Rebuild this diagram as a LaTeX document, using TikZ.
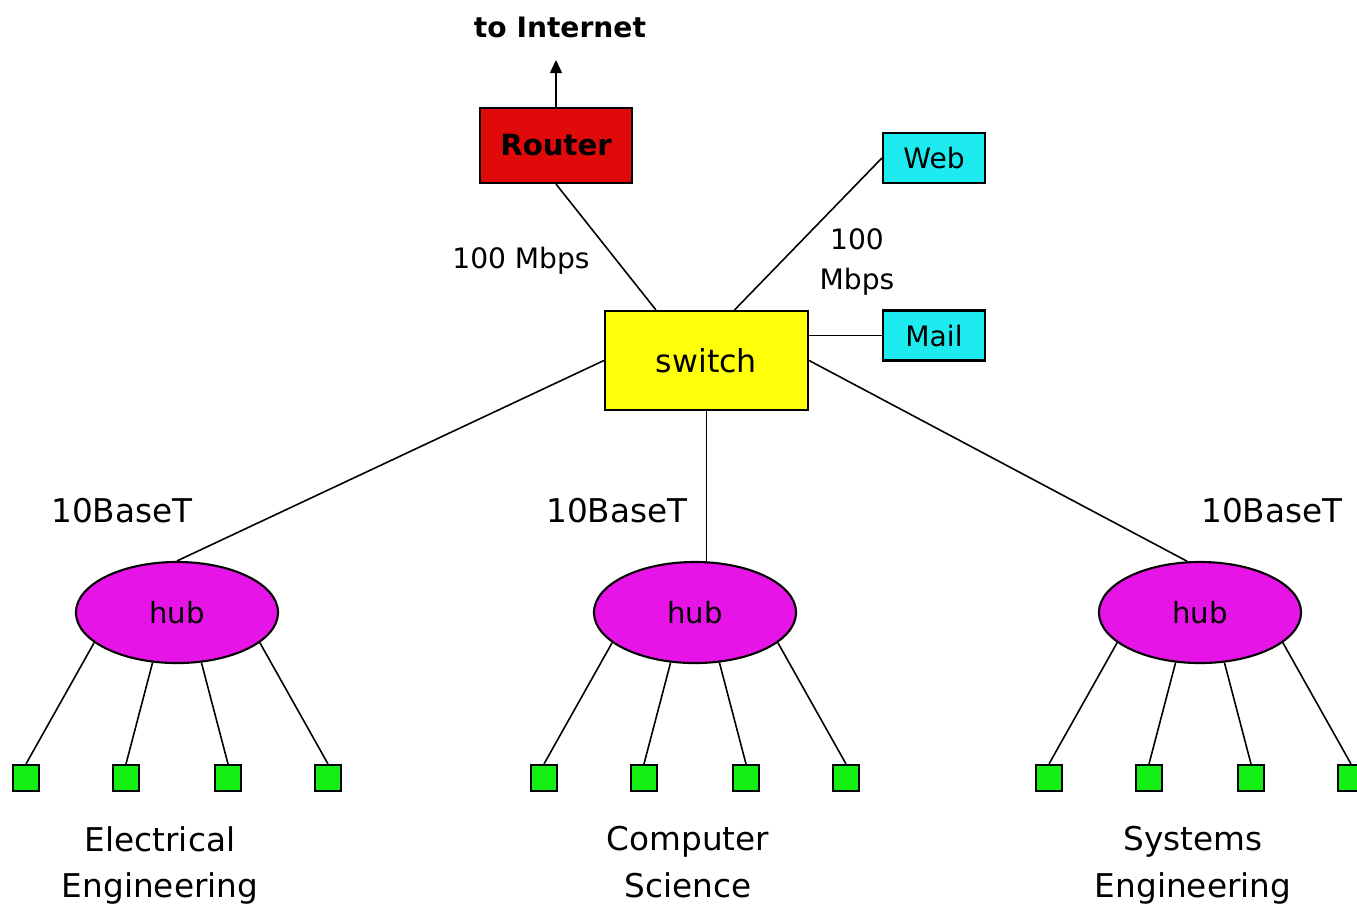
\documentclass[tikz,border=0pt]{standalone}
\usepackage{fontspec}
\setmainfont{DejaVu Sans}
\usetikzlibrary{arrows.meta,shapes.geometric}
\definecolor{RouterRed}{HTML}{E00A0A}
\definecolor{SwitchYellow}{HTML}{FFFF0A}
\definecolor{ServerCyan}{HTML}{1EEBF0}
\definecolor{HubMagenta}{HTML}{E614E6}
\definecolor{HostGreen}{HTML}{14F014}

\begin{document}
\begin{tikzpicture}[x=0.01cm,y=-0.01cm,
    box/.style={draw=black,line width=0.6pt,inner sep=0pt},
    server/.style={box,fill=ServerCyan,minimum width=1.02cm,minimum height=0.50cm,font=\fontsize{8pt}{10pt}\selectfont},
    hubnode/.style={ellipse,draw=black,line width=0.6pt,fill=HubMagenta,minimum width=2.02cm,minimum height=1.01cm,inner sep=0pt,font=\fontsize{8.3pt}{10pt}\selectfont},
    host/.style={box,fill=HostGreen,minimum size=0.26cm},
    link/.style={draw=black,line width=0.45pt},
    speed/.style={inner sep=0pt,font=\fontsize{9.3pt}{12pt}\selectfont},
    dept/.style={inner sep=0pt,align=center,font=\fontsize{9.3pt}{13.1pt}\selectfont}]
    \useasboundingbox (0,0) rectangle (1357,905);

    % core
    \node[box,fill=RouterRed,minimum width=1.52cm,minimum height=0.75cm,font=\bfseries\fontsize{8.3pt}{10pt}\selectfont] (router) at (556,145.5) {Router};
    \node[anchor=base,inner sep=0pt,font=\bfseries\fontsize{8pt}{10pt}\selectfont] (internet) at (560,37) {to Internet};
    \coordinate (inet) at (556,60);
    \draw[link,-{Triangle[length=0.13cm,width=0.12cm]}] (router.north) -- (inet);

    \node[box,fill=SwitchYellow,minimum width=2.03cm,minimum height=0.99cm,font=\fontsize{9pt}{11pt}\selectfont] (switch) at (706.5,360.5) {switch};
    \node[server] (web) at (934,158) {Web};
    \node[server] (mail) at (934,335.5) {Mail};

    \draw[link] (router.south) -- (switch.135);
    \draw[link] (web.west) -- (switch.61);
    \draw[link] (mail.west) -- (mail.west -| switch.east);
    \node[anchor=base,inner sep=0pt,font=\fontsize{8pt}{10pt}\selectfont] (uplink) at (521,268) {100 Mbps};
    \node[anchor=north,inner sep=0pt,align=center,font=\fontsize{8pt}{11.4pt}\selectfont] (srvlink) at (857,228) {100\\Mbps};

    % departments
    \foreach \name/\cx in {ee/177,cs/695,se/1200} {
      \node[hubnode] (\name) at (\cx,612.5) {hub};
      \foreach \k/\dx/\ang in {1/-151/200,2/-51/244,3/51/296,4/151/340} {
        \node[host] (\name\k) at (\cx+\dx,778) {};
        \draw[link] (\name.\ang) -- (\name\k.north);
      }
    }
    \draw[link] (switch.west) -- (ee.north);
    \draw[link] (switch.south) -- (switch.south |- cs.north);
    \draw[link] (switch.east) -- (se.104);

    \node[speed,anchor=base] (ee-speed) at (122,522) {10BaseT};
    \node[speed,anchor=base] (cs-speed) at (617,522) {10BaseT};
    \node[speed,anchor=base] (se-speed) at (1272,522) {10BaseT};

    \node[dept,anchor=north] (ee-name) at (160,826) {Electrical\\Engineering};
    \node[dept,anchor=north] (cs-name) at (688,826) {Computer\\Science};
    \node[dept,anchor=north] (se-name) at (1193,826) {Systems\\Engineering};
  \end{tikzpicture}
\end{document}
